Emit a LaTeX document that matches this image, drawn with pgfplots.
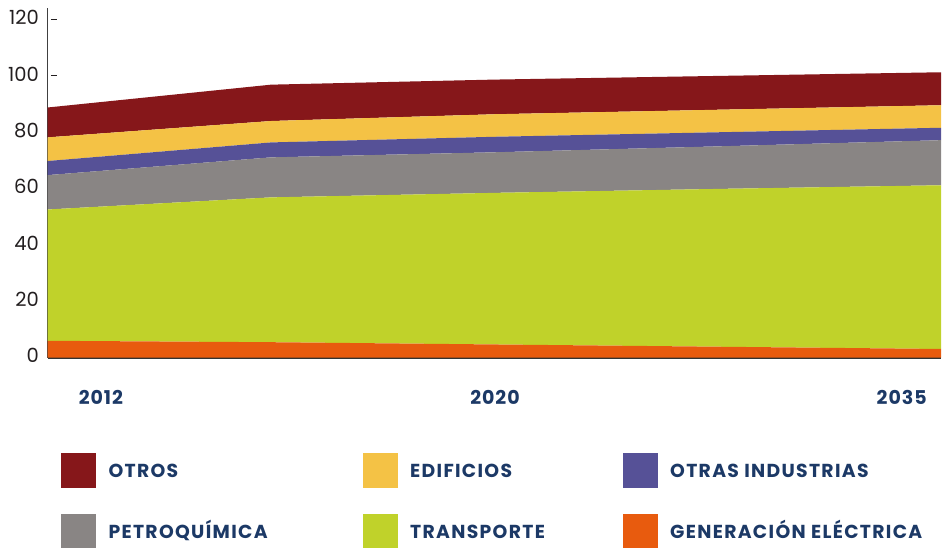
\documentclass[border=0pt]{standalone}
\usepackage{pgfplots}
\usepackage{pgfplotstable}
\pgfplotsset{compat=1.18}
\usepackage{fontspec}
\setmainfont{Poppins}
\definecolor{cotros}{HTML}{86171A}
\definecolor{cedif}{HTML}{F4C245}
\definecolor{cotras}{HTML}{565197}
\definecolor{cpetro}{HTML}{898584}
\definecolor{ctrans}{HTML}{C0D22A}
\definecolor{cgen}{HTML}{E85B0E}
\definecolor{navy}{HTML}{1C3966}
\definecolor{tickc}{HTML}{231F20}
\pgfplotstableread{
x gen trans petro otras edif otros
0 6.0 46.6 12.2 5.0 8.4 10.6
1 5.5 51.4 14.2 5.3 7.6 12.9
2 4.7 53.8 14.4 5.5 8.0 12.3
3 3.9 56.0 15.1 5.0 8.0 12.0
4 3.1 58.1 16.0 4.4 8.0 11.7
}\datatable
\newcommand{\lfont}{\fontsize{18.8bp}{22bp}\selectfont\bfseries\addfontfeature{LetterSpace=7}\color{navy}}
\begin{document}
\begin{tikzpicture}
\useasboundingbox (-47.7bp,-190.3bp) rectangle (897.3bp,357.7bp);
\begin{axis}[
  at={(0,0)}, anchor=south west,
  scale only axis, width=893.3bp, height=349.4bp,
  xmin=0, xmax=4, ymin=0, ymax=124,
  stack plots=y,
  axis lines=left,
  axis line style={-},
  x axis line style={line width=2bp, color=black!80},
  y axis line style={line width=1.2bp, color=black!75},
  xtick={0.238,2.003,3.824},
  xticklabels={2012,2020,2035},
  x tick style={draw=none},
  xticklabel style={anchor=base, yshift=-46.3bp, inner sep=0pt,
     font=\fontsize{19bp}{22bp}\selectfont\bfseries\addfontfeature{LetterSpace=5}, text=navy},
  ytick={0,20,...,120},
  y tick style={xshift=3.3bp, line width=0.9bp, color=tickc},
  tick align=inside,
  major tick length=6bp,
  yticklabel style={anchor=east, xshift=-8.7bp, yshift=2bp, inner sep=0pt,
     font=\fontsize{19.5bp}{22bp}\selectfont, text=tickc},
  /pgf/number format/assume math mode=true,
  reverse legend,
  legend columns=3,
  legend style={at={(axis description cs:0.01489,-0.2727)}, anchor=north west,
     draw=none, fill=none, inner sep=0pt,
     nodes={inner sep=0pt, anchor=base west},
     /tikz/column sep=0pt, /tikz/row sep=26bp},
  legend image code/.code={\fill[#1] (0bp,-11.1bp) rectangle (35bp,23.9bp);},
]
\addplot[fill=cgen, draw=none] table[x=x,y=gen]{\datatable} \closedcycle;
\addlegendentry{\lfont\hspace{12.3bp}\makebox[0bp][l]{GENERACIÓN ELÉCTRICA}}
\addplot[fill=ctrans, draw=none] table[x=x,y=trans]{\datatable} \closedcycle;
\addlegendentry{\lfont\hspace{12.3bp}\makebox[212.7bp][l]{TRANSPORTE}}
\addplot[fill=cpetro, draw=none] table[x=x,y=petro]{\datatable} \closedcycle;
\addlegendentry{\lfont\hspace{12.3bp}\makebox[254.4bp][l]{PETROQUÍMICA}}
\addplot[fill=cotras, draw=none] table[x=x,y=otras]{\datatable} \closedcycle;
\addlegendentry{\lfont\hspace{12.3bp}\makebox[0bp][l]{OTRAS INDUSTRIAS}}
\addplot[fill=cedif, draw=none] table[x=x,y=edif]{\datatable} \closedcycle;
\addlegendentry{\lfont\hspace{12.3bp}\makebox[212.7bp][l]{EDIFICIOS}}
\addplot[fill=cotros, draw=none] table[x=x,y=otros]{\datatable} \closedcycle;
\addlegendentry{\lfont\hspace{12.3bp}\makebox[254.4bp][l]{OTROS}}
\end{axis}
\end{tikzpicture}
\end{document}
